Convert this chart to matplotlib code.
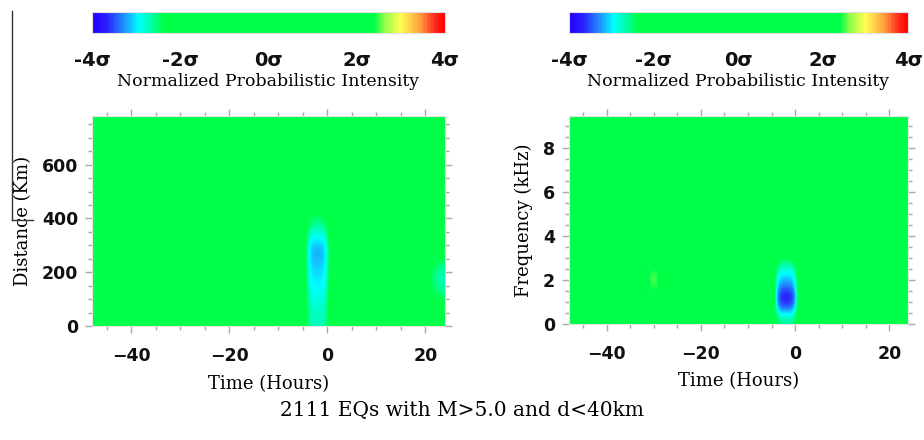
import numpy as np
import matplotlib
matplotlib.use('Agg')
import matplotlib.pyplot as plt
from matplotlib.colors import LinearSegmentedColormap
from matplotlib.lines import Line2D

# grids (bin centres)
hours = np.arange(-47.5, 24.0, 1.0)          # 1-hour bins, -48..24
dist_km = np.arange(25.0, 800.0, 50.0)       # 50 km bins, 0..800
freq_khz = np.arange(0.25, 9.5, 0.5)         # 0.5 kHz bins, 0..9.5

# distance panel: anomaly patch near t=-2 h (rows = dist_km[:10])
dist_blob_hours = [-4.5, -3.5, -2.5, -1.5, -0.5, 0.5]
dist_blob_sigma = [
    [-2.30, -2.68, -2.72, -2.72, -2.68, -2.30],   # 25 km
    [-2.35, -2.75, -2.80, -2.80, -2.75, -2.35],   # 75
    [-2.45, -2.88, -2.93, -2.93, -2.88, -2.45],   # 125
    [-2.45, -2.95, -3.00, -3.00, -2.95, -2.45],   # 175
    [-2.50, -3.05, -3.10, -3.10, -3.05, -2.50],   # 225
    [-2.50, -3.12, -3.22, -3.22, -3.12, -2.50],   # 275
    [-2.45, -2.95, -3.00, -3.00, -2.95, -2.45],   # 325
    [-2.20, -2.50, -2.60, -2.60, -2.50, -2.20],   # 375
    [-2.00, -2.35, -2.45, -2.45, -2.35, -2.00],   # 425
    [-0.80, -1.30, -1.50, -1.50, -1.30, -0.80],   # 475
]
# weak patch at right edge (t~23 h, d~175 km)
edge_blob_hours = [20.5, 21.5, 22.5, 23.5]
edge_blob_dist = [75.0, 125.0, 175.0, 225.0, 275.0]
edge_blob_sigma = [
    [-1.80, -2.00, -2.20, -2.25],
    [-2.20, -2.40, -2.55, -2.60],
    [-2.30, -2.55, -2.68, -2.72],
    [-2.20, -2.40, -2.55, -2.60],
    [-1.80, -2.00, -2.20, -2.25],
]

# frequency panel: anomaly patch near t=-2 h (rows = freq_khz[:8])
freq_blob_hours = [-4.5, -3.5, -2.5, -1.5, -0.5, 0.5]
freq_blob_sigma = [
    [-2.20, -2.55, -2.60, -2.60, -2.55, -2.20],   # 0.25 kHz
    [-2.55, -3.35, -3.45, -3.45, -3.35, -2.55],   # 0.75
    [-2.65, -3.65, -3.80, -3.80, -3.65, -2.65],   # 1.25
    [-2.55, -3.20, -3.30, -3.30, -3.20, -2.55],   # 1.75
    [-2.45, -2.95, -3.00, -3.00, -2.95, -2.45],   # 2.25
    [-2.20, -2.55, -2.60, -2.60, -2.55, -2.20],   # 2.75
    [-1.70, -2.10, -2.20, -2.20, -2.10, -1.70],   # 3.25
    [-0.50, -0.90, -1.00, -1.00, -0.90, -0.50],   # 3.75
]
# faint positive spot at t=-30 h, 2 kHz
pos_spot_hours = [-31.5, -30.5, -29.5, -28.5]
pos_spot_freq = [1.25, 1.75, 2.25, 2.75]
pos_spot_sigma = [
    [2.20, 2.35, 2.35, 2.20],
    [2.35, 2.50, 2.50, 2.35],
    [2.35, 2.50, 2.50, 2.35],
    [2.20, 2.35, 2.35, 2.20],
]

cbar_ticks = [-4, -2, 0, 2, 4]
cbar_labels = ['-4σ', '-2σ', '0σ', '2σ', '4σ']


def fill(grid, rows_y, yvals, cols_x, block):
    for i, yv in enumerate(rows_y):
        r = np.argmin(np.abs(yvals - yv))
        for j, xv in enumerate(cols_x):
            c = np.argmin(np.abs(hours - xv))
            grid[r, c] = block[i][j]


dist_grid = np.zeros((len(dist_km), len(hours)))
fill(dist_grid, dist_km[:len(dist_blob_sigma)], dist_km, dist_blob_hours, dist_blob_sigma)
fill(dist_grid, edge_blob_dist, dist_km, edge_blob_hours, edge_blob_sigma)

freq_grid = np.zeros((len(freq_khz), len(hours)))
fill(freq_grid, freq_khz[:len(freq_blob_sigma)], freq_khz, freq_blob_hours, freq_blob_sigma)
fill(freq_grid, pos_spot_freq, freq_khz, pos_spot_hours, pos_spot_sigma)

green = '#00ff48'
cmap = LinearSegmentedColormap.from_list('sigma', [
    (0.00, '#2000ff'),
    (0.04, '#2a20ff'),
    (0.09, '#2090ff'),
    (0.13, '#00ffff'),
    (0.17, '#00ffa0'),
    (0.20, green),
    (0.80, green),
    (0.83, '#90ff48'),
    (0.875, '#ffff50'),
    (0.93, '#ffa040'),
    (0.97, '#ff3020'),
    (1.00, '#ff0000'),
])

serif = 'DejaVu Serif'
tick_gray = '#a8a8a8'

fig = plt.figure(figsize=(9.24, 4.4), dpi=100)


def panel(rect, crect, grid, extent, ylim, yticks, ylabel):
    ax = fig.add_axes(rect)
    im = ax.imshow(grid, origin='lower', extent=extent, aspect='auto', cmap=cmap,
                   vmin=-4, vmax=4, interpolation='bicubic', interpolation_stage='data')
    ax.set_xlim(-48, 24)
    ax.set_ylim(*ylim)
    ax.set_xticks([-40, -20, 0, 20])
    ax.set_xticks(np.arange(-45, 24, 5), minor=True)
    ax.set_yticks(yticks[0])
    ax.set_yticks(yticks[1], minor=True)
    ax.tick_params(which='both', direction='out', color=tick_gray, top=True, right=True,
                   width=1.0)
    ax.tick_params(which='major', length=5)
    ax.tick_params(which='minor', length=3)
    ax.tick_params(axis='x', pad=10)
    ax.tick_params(axis='y', pad=5)
    for lab in ax.get_xticklabels() + ax.get_yticklabels():
        lab.set_fontsize(12.5)
        lab.set_fontweight('bold')
        lab.set_color('#111111')
    for s in ax.spines.values():
        s.set_color('#e4e4e4')
        s.set_linewidth(0.8)
    ax.set_xlabel('Time (Hours)', fontfamily=serif, fontsize=13, labelpad=7)
    ax.set_ylabel(ylabel, fontfamily=serif, fontsize=13, labelpad=7)

    cax = fig.add_axes(crect)
    cb = fig.colorbar(im, cax=cax, orientation='horizontal', ticks=cbar_ticks)
    cb.ax.set_xticklabels(cbar_labels)
    cb.ax.tick_params(length=0, pad=13)
    for lab in cb.ax.get_xticklabels():
        lab.set_fontsize(14)
        lab.set_fontweight('bold')
        lab.set_color('#111111')
    cb.outline.set_edgecolor('#e0e0e0')
    cb.ax.set_xlabel('Normalized Probabilistic Intensity', fontfamily=serif,
                     fontsize=12.5, labelpad=2)
    return ax


panel([0.0996, 0.259, 0.382, 0.477], [0.0996, 0.925, 0.382, 0.048],
      dist_grid, [-48, 24, 0, 800], (0, 780),
      ([0, 200, 400, 600], np.arange(0, 780, 50)), 'Distance (Km)')

panel([0.6158, 0.2636, 0.367, 0.473], [0.6158, 0.925, 0.367, 0.048],
      freq_grid, [-48, 24, 0, 9.5], (0, 9.45),
      ([0, 2, 4, 6, 8], np.arange(0, 9.45, 0.5)), 'Frequency (kHz)')

fig.text(0.5, 0.068, '2111 EQs with M>5.0 and d<40km', ha='center', va='center',
         fontfamily=serif, fontsize=14.5)

# stray crop lines at the left edge of the original figure
fig.add_artist(Line2D([12 / 924, 12 / 924], [1 - 11 / 440, 1 - 220 / 440],
                      transform=fig.transFigure, color='#333333', lw=1.0))
fig.add_artist(Line2D([12 / 924, 33 / 924], [1 - 220 / 440, 1 - 220 / 440],
                      transform=fig.transFigure, color='#333333', lw=1.0))

fig.savefig('out.png', dpi=100)
